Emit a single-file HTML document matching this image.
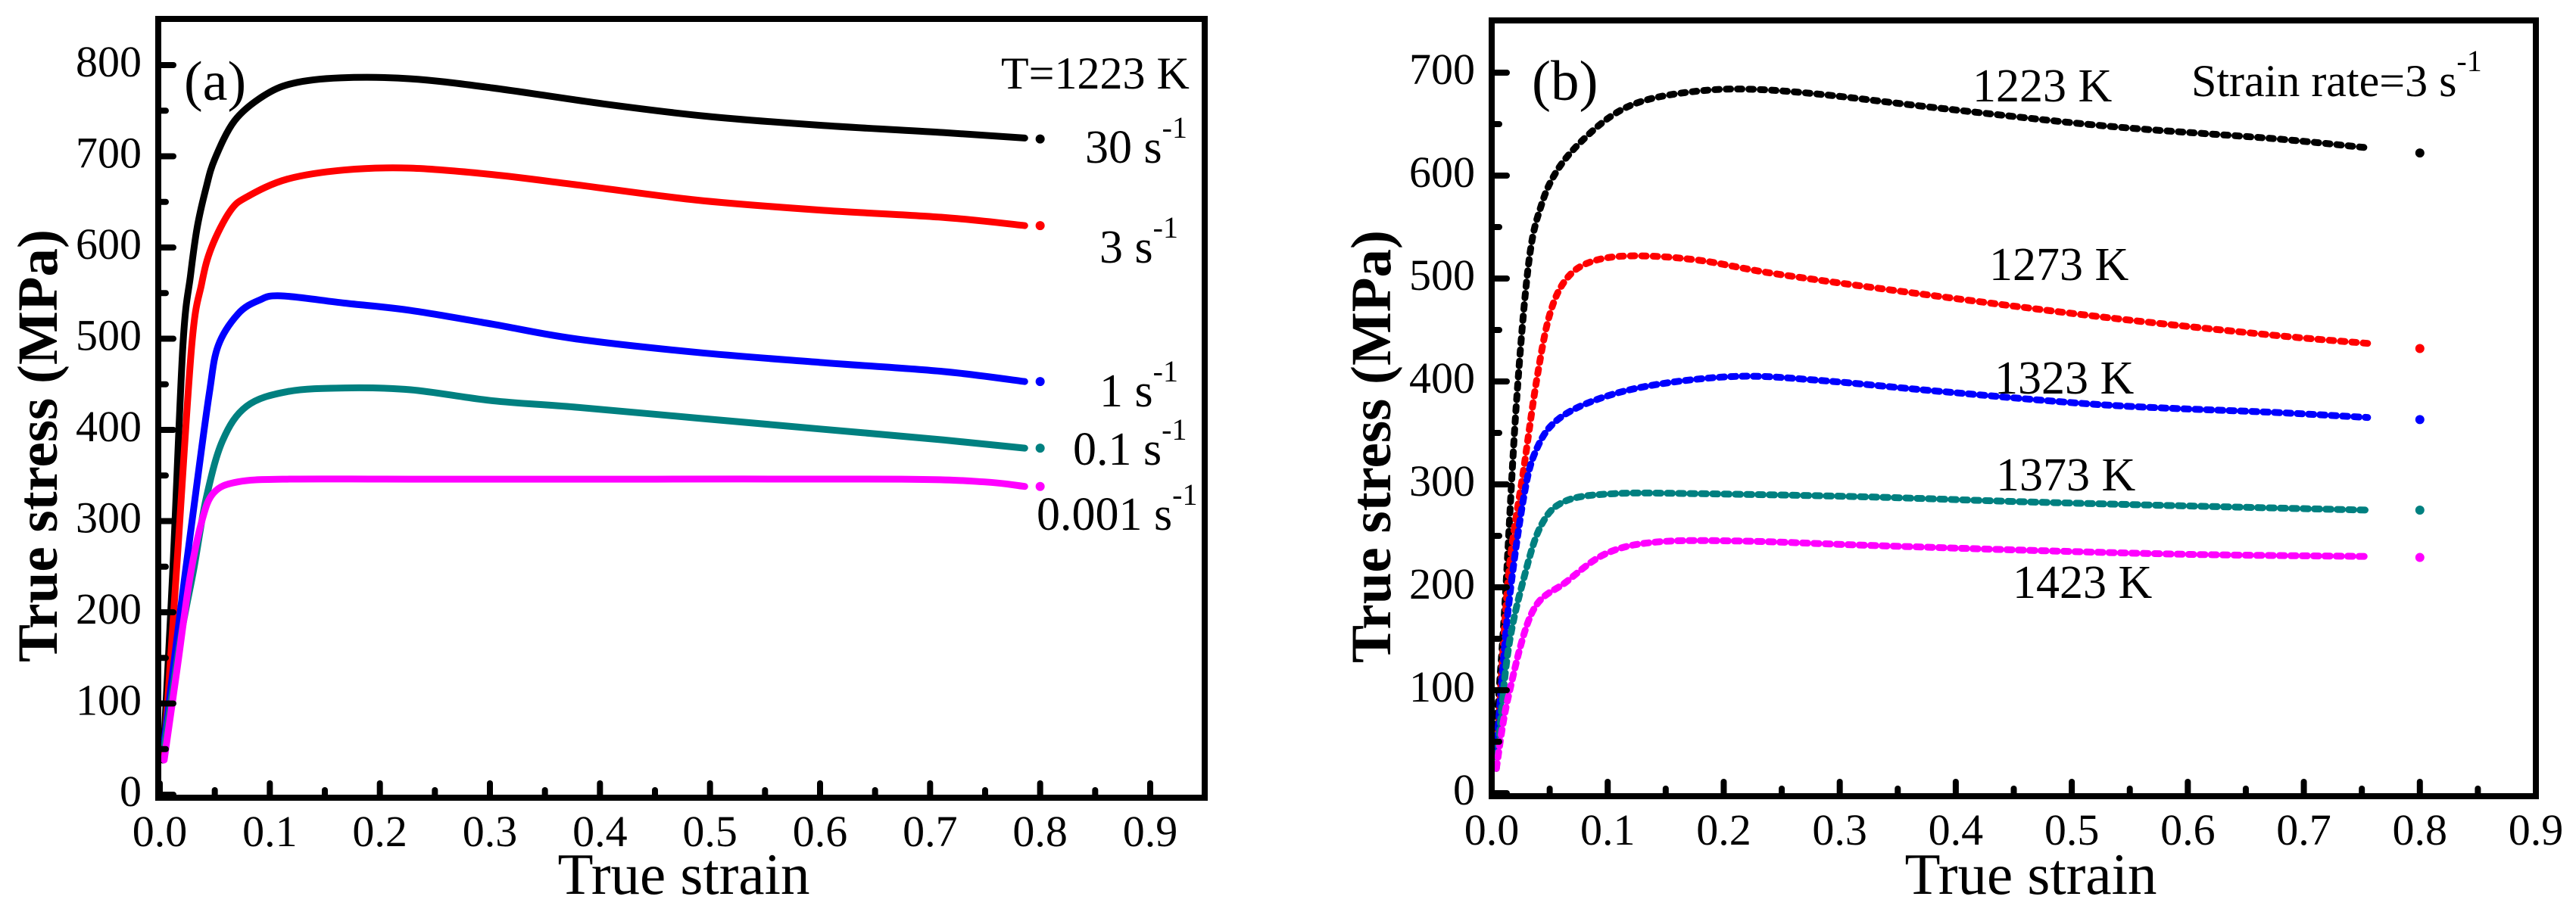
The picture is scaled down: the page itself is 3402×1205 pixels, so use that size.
<!DOCTYPE html>
<html><head><meta charset="utf-8"><style>
html,body{margin:0;padding:0;background:#fff}
svg{display:block}
text{font-family:"Liberation Serif",serif;fill:#000}
</style></head><body>
<svg id="chart" xmlns="http://www.w3.org/2000/svg" width="3402" height="1205" viewBox="0 0 3402 1205">
<g id="pa"></g>
<g id="pb"></g>
</svg>
<script>
// ---- Panel (a) data: T=1223 K ----
const aXTicks = ["0.0","0.1","0.2","0.3","0.4","0.5","0.6","0.7","0.8","0.9"];
const aYTicks = ["0","100","200","300","400","500","600","700","800"];
const a30x = [.003,.012,.021,.028,.034,.042,.050,.068,.094,.121,.164,.228,.302,.406,.496,.600,.712,.786];
const a30y = [38,250,492,570,622,665,697,739,766,780,786,785,775,757,744,734,726,720];
const a3x = [.004,.016,.029,.038,.047,.064,.080,.116,.168,.228,.302,.377,.488,.600,.712,.786];
const a3y = [45,260,492,560,600,640,656,675,685,687,680,669,652,641,633,624];
const a1x = [.004,.019,.034,.045,.053,.071,.090,.110,.168,.228,.302,.377,.488,.600,.712,.786];
const a1y = [57,204,343,440,492,527,542,547,539,531,516,500,485,474,464,453];
const a01x = [.004,.019,.031,.042,.057,.079,.116,.168,.228,.302,.377,.488,.600,.712,.786];
const a01y = [51,172,248,324,388,426,442,446,444,432,425,413,401,389,380];
const a0001x = [.004,.016,.027,.038,.049,.071,.116,.228,.451,.674,.749,.786];
const a0001y = [38,140,235,299,331,343,346,346,346,346,343,338];
const aLegendY = [719,624,453,380,338];
// ---- Panel (b) data: strain rate 3 s^-1 ----
const bXTicks = ["0.0","0.1","0.2","0.3","0.4","0.5","0.6","0.7","0.8","0.9"];
const bYTicks = ["0","100","200","300","400","500","600","700"];
const b1223x = [.004,.011,.021,.032,.043,.057,.078,.106,.135,.177,.220,.283,.390,.531,.673,.755];
const b1223y = [63,176,374,516,572,606,634,660,674,682,684,679,665,648,636,627];
const b1273x = [.004,.014,.028,.039,.050,.064,.085,.120,.177,.248,.390,.531,.673,.755];
const b1273y = [24,205,318,403,465,499,516,522,518,504,482,462,445,437];
const b1323x = [.004,.014,.028,.039,.057,.092,.142,.213,.283,.390,.531,.673,.755];
const b1323y = [41,176,290,335,363,383,397,405,401,390,377,370,365];
const b1373x = [.004,.014,.028,.043,.064,.106,.177,.319,.461,.602,.755];
const b1373y = [24,137,210,261,284,291,291,288,283,279,275];
const b1423x = [.004,.014,.035,.064,.099,.142,.213,.319,.461,.602,.755];
const b1423y = [24,92,176,205,233,244,245,241,236,232,230];
const bLegendY = [622,432,363,275,229];

const NS="http://www.w3.org/2000/svg";
function mk(parent,tag,attrs){const e=document.createElementNS(NS,tag);for(const k in attrs)e.setAttribute(k,attrs[k]);parent.appendChild(e);return e;}
function smooth(pts){let d="M"+pts[0][0]+","+pts[0][1];for(let i=0;i<pts.length-1;i++){const p0=pts[Math.max(0,i-1)],p1=pts[i],p2=pts[i+1],p3=pts[Math.min(pts.length-1,i+2)];const c1x=p1[0]+(p2[0]-p0[0])/6,c1y=p1[1]+(p2[1]-p0[1])/6,c2x=p2[0]-(p3[0]-p1[0])/6,c2y=p2[1]-(p3[1]-p1[1])/6;d+=" C"+c1x+","+c1y+" "+c2x+","+c2y+" "+p2[0]+","+p2[1];}return d;}

function panel(g,cfg){
  const X=v=>cfg.x0+(v-cfg.xmin)/(cfg.xmax-cfg.xmin)*(cfg.x1-cfg.x0);
  const Y=v=>cfg.y0-(v-cfg.ymin)/(cfg.ymax-cfg.ymin)*(cfg.y0-cfg.y1);
  cfg.series.forEach((s,i)=>{
    const pts=s.x.map((v,j)=>[X(v),Y(s.y[j])]);
    const p=mk(g,"path",{d:smooth(pts),fill:"none",stroke:s.c,"stroke-width":9,"stroke-linecap":"round","stroke-linejoin":"round"});
    if(s.dash)p.setAttribute("stroke-dasharray",s.dash);
    
    
    const m=mk(g,"circle",{cx:X(0.8),cy:Y(cfg.legendY[i]),r:6,fill:s.c});
    
    
  });
  const fr=mk(g,"rect",{x:cfg.fx0,y:cfg.fy0,width:cfg.fx1-cfg.fx0,height:cfg.fy1-cfg.fy0,fill:"none",stroke:"#000","stroke-width":8});
  
  
  cfg.xticks.forEach((t,i)=>{
    const v=parseFloat(t),x=X(v);
    mk(g,"line",{x1:x,x2:x,y1:cfg.fy1,y2:cfg.fy1-19,stroke:"#000","stroke-width":8,"stroke-linecap":"round"});
    if(i<cfg.xticks.length-1){const xm=X(v+0.05);if(xm<cfg.fx1-5)mk(g,"line",{x1:xm,x2:xm,y1:cfg.fy1,y2:cfg.fy1-10,stroke:"#000","stroke-width":8,"stroke-linecap":"round"});}
    const tx=mk(g,"text",{x:x,y:cfg.fy1+64,"font-size":58,"text-anchor":"middle"});tx.textContent=t;
    
    
  });
  cfg.yticks.forEach((t,i)=>{
    const v=parseFloat(t),y=Y(v);
    mk(g,"line",{x1:cfg.fx0,x2:cfg.fx0+20,y1:y,y2:y,stroke:"#000","stroke-width":8,"stroke-linecap":"round"});
    const ym=Y(v+50);if(ym>cfg.fy0+5)mk(g,"line",{x1:cfg.fx0,x2:cfg.fx0+10,y1:ym,y2:ym,stroke:"#000","stroke-width":8,"stroke-linecap":"round"});
    const tx=mk(g,"text",{x:cfg.fx0-22,y:y+15,"font-size":58,"text-anchor":"end"});tx.textContent=t;
    
    
  });
}

const pa=document.getElementById("pa"), pb=document.getElementById("pb");
panel(pa,{x0:211,x1:1519,xmin:0,xmax:0.9,y0:1050,y1:86,ymin:0,ymax:800,fx0:209,fx1:1591,fy0:25,fy1:1054,
  xticks:aXTicks,yticks:aYTicks,legendY:aLegendY,series:[
  {n:"30",x:a30x,y:a30y,c:"#000"},{n:"3",x:a3x,y:a3y,c:"#ff0000"},{n:"1",x:a1x,y:a1y,c:"#0000ff"},
  {n:"0.1",x:a01x,y:a01y,c:"#008080"},{n:"0.001",x:a0001x,y:a0001y,c:"#ff00ff"}]});
panel(pb,{x0:1970,x1:3349,xmin:0,xmax:0.9,y0:1048,y1:96,ymin:0,ymax:700,fx0:1970,fx1:3349,fy0:27,fy1:1052,
  xticks:bXTicks,yticks:bYTicks,legendY:bLegendY,series:[
  {n:"1223",x:b1223x,y:b1223y,c:"#000",dash:"6 9"},{n:"1273",x:b1273x,y:b1273y,c:"#ff0000",dash:"6 9"},{n:"1323",x:b1323x,y:b1323y,c:"#0000ff",dash:"7 8"},
  {n:"1373",x:b1373x,y:b1373y,c:"#008080",dash:"7 8"},{n:"1423",x:b1423x,y:b1423y,c:"#ff00ff",dash:"7 8"}]});
</script>
<svg style="position:absolute;left:0;top:0" width="3402" height="1205" viewBox="0 0 3402 1205">
<g font-family="Liberation Serif, serif">
<text x="243" y="132" font-size="74">(a)</text>
<text x="2023" y="132" font-size="75">(b)</text>
<text x="903" y="1181" font-size="77" text-anchor="middle">True strain</text>
<text x="2682" y="1181" font-size="77" text-anchor="middle">True strain</text>
<text transform="translate(75,589) rotate(-90)" font-size="75" font-weight="bold" text-anchor="middle">True stress (MPa)</text>
<text transform="translate(1836,590) rotate(-90)" font-size="75" font-weight="bold" text-anchor="middle">True stress (MPa)</text>
<text x="1322" y="117" font-size="60">T=1223 K</text>
<text x="1433" y="215" font-size="62">30 s<tspan dy="-33" font-size="40">-1</tspan></text>
<text x="1452" y="347" font-size="62">3 s<tspan dy="-33" font-size="40">-1</tspan></text>
<text x="1452" y="537" font-size="62">1 s<tspan dy="-33" font-size="40">-1</tspan></text>
<text x="1417" y="614" font-size="62">0.1 s<tspan dy="-33" font-size="40">-1</tspan></text>
<text x="1369" y="700" font-size="62">0.001 s<tspan dy="-33" font-size="40">-1</tspan></text>
<text x="2894" y="127" font-size="60">Strain rate=3 s<tspan dy="-33" font-size="40">-1</tspan></text>
<text x="2605" y="134" font-size="62">1223 K</text>
<text x="2627" y="370" font-size="62">1273 K</text>
<text x="2634" y="520" font-size="62">1323 K</text>
<text x="2636" y="648" font-size="62">1373 K</text>
<text x="2658" y="790" font-size="62">1423 K</text>
</g>
</svg>
</body></html>
